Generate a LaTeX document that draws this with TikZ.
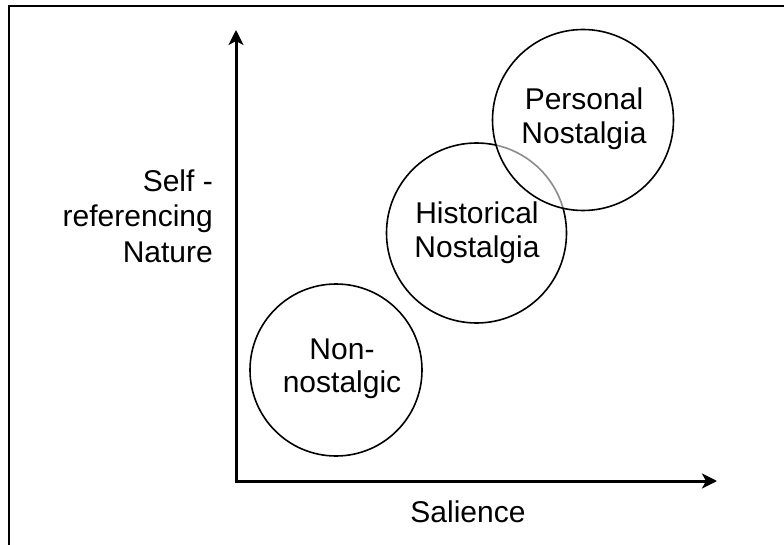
\documentclass[tikz,border=0pt]{standalone}
\usepackage{fontspec}
\setmainfont{Liberation Sans}
\usetikzlibrary{arrows.meta}
\begin{document}
\begin{tikzpicture}[x=1pt,y=-1pt,
  lbl/.style={font=\fontsize{30}{34}\selectfont, align=center, inner sep=0pt},
  ring/.style={circle, draw=black, line width=1.6pt, inner sep=0pt},
  axis/.style={line width=3pt, -{Stealth[length=15pt,width=15pt,inset=4pt]}},
  frame/.style={line width=1.6pt}]
\useasboundingbox (0,0) rectangle (784,545);
% frame (top and left only)
\coordinate (fTR) at (784,6);
\coordinate (fTL) at (9,6);
\coordinate (fBL) at (9,545);
\draw[frame] (fTR) -- (fTL) -- (fBL);
% circles
\node[ring, minimum size=172pt] (non) at (336,370) {};
\node[ring, minimum size=180pt] (hist) at (476.5,233) {};
\node[ring, minimum size=181pt, fill=white, fill opacity=0.55] (pers) at (583,120) {};
% circle labels
\node[lbl, anchor=base] (nonA) at (342,359) {Non-};
\node[lbl, anchor=base] (nonB) at (342,392) {nostalgic};
\node[lbl, anchor=base] (histA) at (477,224) {Historical};
\node[lbl, anchor=base] (histB) at (477,258) {Nostalgia};
\node[lbl, anchor=base] (persA) at (584,110) {Personal};
\node[lbl, anchor=base] (persB) at (584,144) {Nostalgia};
% axes
\coordinate (o) at (236,481);
\coordinate (ytip) at (236,30);
\coordinate (xtip) at (717,481);
\draw[axis] ([yshift=1.5pt]o) -- (ytip);
\draw[axis] ([xshift=-1.5pt]o) -- (xtip);
% axis labels
\node[lbl, anchor=base east] (yA) at (213,192) {Self -};
\node[lbl, anchor=base east] (yB) at (213,227) {referencing};
\node[lbl, anchor=base east] (yC) at (213,262) {Nature};
\node[lbl, anchor=base] (xl) at (468,522) {Salience};
\end{tikzpicture}
\end{document}
